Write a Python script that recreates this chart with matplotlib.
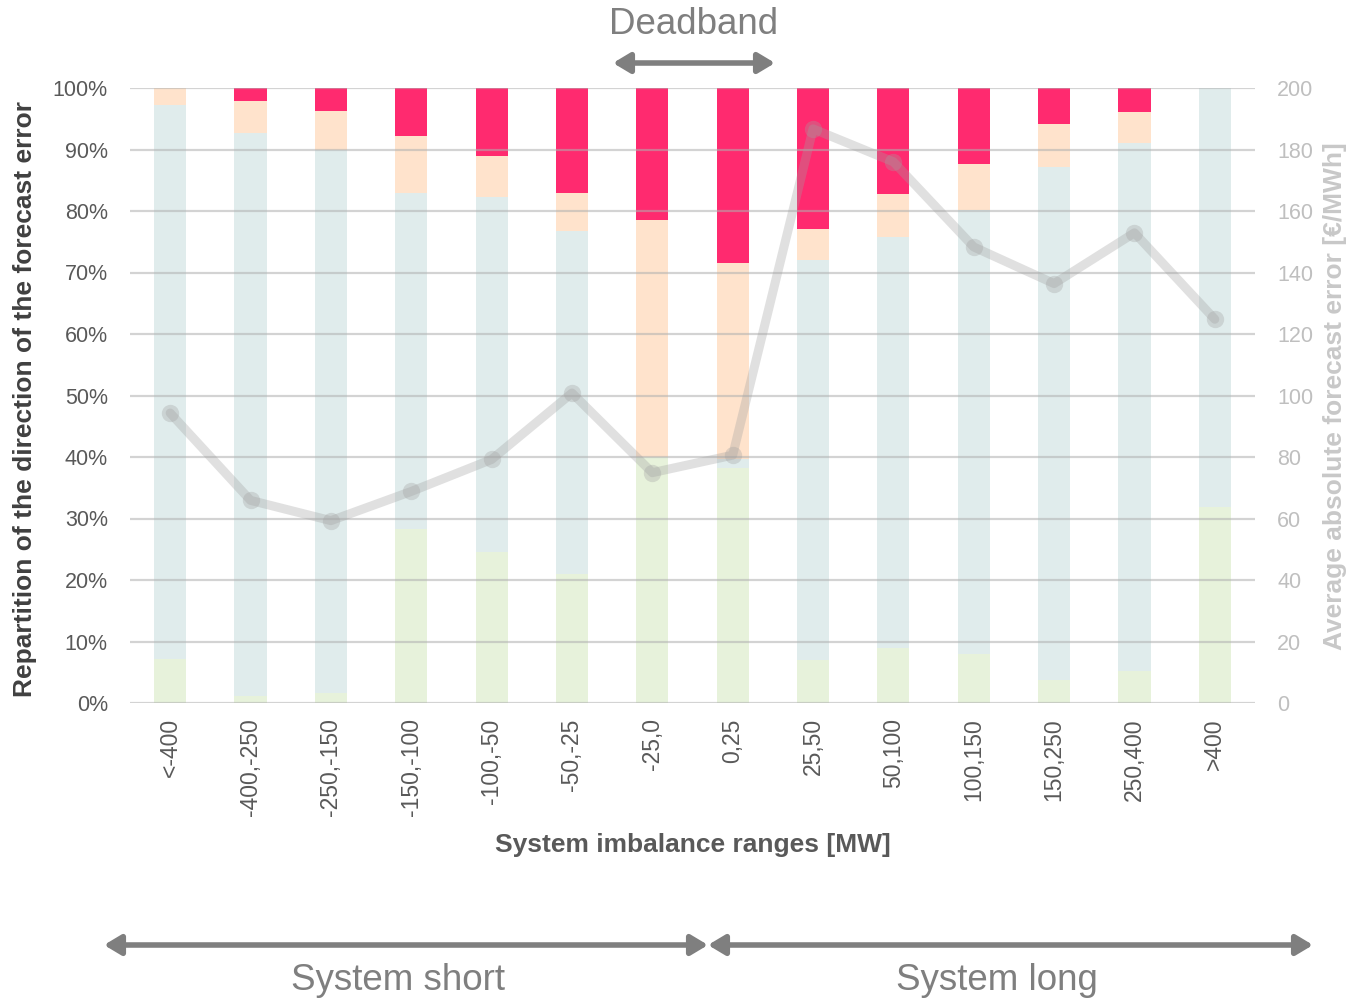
import matplotlib
matplotlib.use("Agg")
import matplotlib.pyplot as plt
from matplotlib.patches import FancyArrowPatch, ArrowStyle
import numpy as np

plt.rcParams['font.family'] = ['Liberation Sans', 'DejaVu Sans']

# Imbalance ranges (MW)
categories = ['<-400', '-400,-250', '-250,-150', '-150,-100', '-100,-50', '-50,-25',
              '-25,0', '0,25', '25,50', '50,100', '100,150', '150,250', '250,400', '>400']

# Share of each forecast-error direction per range (%), stacked bottom to top
share_green = [7.2, 1.2, 1.6, 28.3, 24.6, 20.9, 40.0, 38.2, 7.0, 8.9, 8.0, 3.7, 5.2, 31.9]
share_blue = [90.1, 91.5, 88.3, 54.7, 57.6, 55.9, 0.0, 1.5, 65.1, 66.9, 72.2, 83.5, 85.8, 68.1]
share_peach = [2.7, 5.2, 6.4, 9.2, 6.8, 6.2, 38.6, 31.8, 5.0, 7.0, 7.4, 6.9, 5.1, 0.0]
share_red = [0.0, 2.1, 3.7, 7.8, 11.0, 17.0, 21.4, 28.5, 22.9, 17.2, 12.4, 5.9, 3.9, 0.0]

# Average absolute forecast error (EUR/MWh)
avg_abs_error = [94.3, 65.9, 59.3, 68.8, 79.2, 100.8, 74.9, 80.6,
                 186.7, 176.0, 148.3, 136.4, 152.9, 124.8]

pct_ticks = [0, 10, 20, 30, 40, 50, 60, 70, 80, 90, 100]
eur_ticks = [0, 20, 40, 60, 80, 100, 120, 140, 160, 180, 200]

W, H = 1350, 998
fig = plt.figure(figsize=(W / 100, H / 100), dpi=100)
ax = fig.add_axes([130 / W, 1 - 703 / H, (1255 - 130) / W, (703 - 88) / H])

x = np.arange(len(categories))
colors = ['#E7F2DB', '#E0ECEC', '#FFE3CC', '#FF2A6F']
bottom = np.zeros(len(categories))
for vals, col in zip([share_green, share_blue, share_peach, share_red], colors):
    vals = np.array(vals)
    ax.bar(x, vals, width=0.4, bottom=bottom, color=col, linewidth=0, zorder=1)
    bottom += vals

ax.set_xlim(-0.5, len(categories) - 0.5)
ax.set_ylim(0, 100)
ax.set_yticks(pct_ticks)
ax.set_yticklabels([f'{t}%' for t in pct_ticks])
ax.set_xticks(x)
ax.set_xticklabels(categories, rotation=90)
for s in ax.spines.values():
    s.set_visible(False)
ax.grid(axis='y', color='#B0B0B0', alpha=0.55, linewidth=1.6, zorder=3)
ax.set_axisbelow(False)
ax.tick_params(axis='y', length=0, pad=16, labelsize=15.5, labelcolor='#595959')
ax.tick_params(axis='x', length=0, pad=11, labelsize=16.5, labelcolor='#595959')
ax.set_ylabel('Repartition of the direction of the forecast error', fontsize=19,
              fontweight='bold', color='#404040')
ax.yaxis.set_label_coords(-0.0933, 0.495)
ax.yaxis.label.set_va('center')
ax.set_xlabel('System imbalance ranges [MW]', fontsize=19, fontweight='bold',
              color='#595959')
ax.xaxis.set_label_coords(0.5, -0.231)
ax.xaxis.label.set_va('center')

ax2 = ax.twinx()
ax2.set_ylim(0, 200)
ax2.set_yticks(eur_ticks)
for s in ax2.spines.values():
    s.set_visible(False)
ax2.tick_params(axis='y', length=0, pad=16, labelsize=15.5, labelcolor='#BFBFBF')
ax2.plot(x, avg_abs_error, color='#A0A0A0', alpha=0.32, linewidth=6.5,
         marker='o', markersize=12.5, markeredgewidth=0, solid_joinstyle='round',
         solid_capstyle='round')
ax2.set_ylabel('Average absolute forecast error [€/MWh]', fontsize=19,
               fontweight='bold', color='#C8C8C8')
ax2.yaxis.set_label_coords(1.0715, 0.499)
ax2.yaxis.label.set_va('center')

# Annotation arrows and labels (figure pixel coordinates)
def px(xp, yp):
    return (xp / W, 1 - yp / H)

arrow_style = ArrowStyle('<|-|>', head_length=10, head_width=6)
for (x0, x1, y) in [(613, 775, 63), (104, 708, 945), (708, 1313, 945)]:
    fig.patches.append(FancyArrowPatch(px(x0, y), px(x1, y), transform=fig.transFigure,
                                       arrowstyle=arrow_style, color='#7F7F7F',
                                       linewidth=4, shrinkA=0, shrinkB=0))

fig.text(*px(694, 25), 'Deadband', ha='center', va='center', fontsize=26.5, color='#7F7F7F')
fig.text(*px(398, 980), 'System short', ha='center', va='center', fontsize=26.5, color='#7F7F7F')
fig.text(*px(997, 980), 'System long', ha='center', va='center', fontsize=26.5, color='#7F7F7F')

fig.savefig('out.png', dpi=100, facecolor='white')
